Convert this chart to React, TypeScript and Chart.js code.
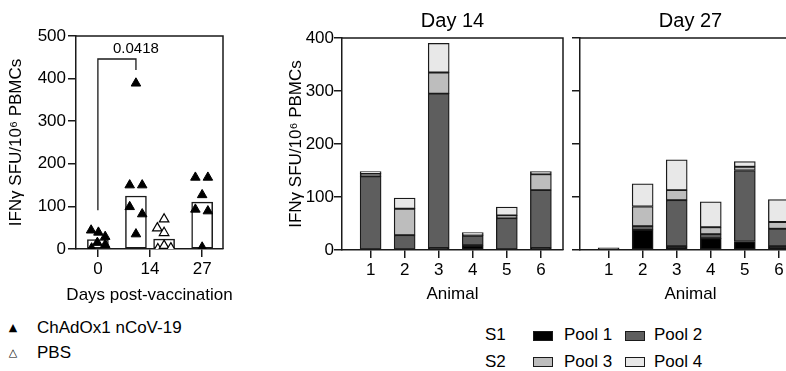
import React, { useEffect, useRef } from "react";
import { Chart, registerables } from "chart.js";

Chart.register(...registerables);

const FONT = "'Liberation Sans', Arial, Helvetica, sans-serif";
const INK = "#1a1a1a";

// ---------- Left panel data ----------
const dayLabels = ["0", "14", "27"];
const chadDay0 = [44, 39, 29, 15, 10, 2];
const chadDay0Jitter = [-0.13, 0.01, 0.14, -0.01, 0.14, -0.12];
const chadDay14 = [150, 150, 99, 82, 35, 389];
const chadDay14Jitter = [-0.12, 0.12, -0.12, 0.12, 0, 0];
const pbsDay14 = [70, 49, 38, 0, 8, 2];
const pbsDay14Jitter = [0, -0.13, 0, -0.12, 0, 0.13];
const chadDay27 = [168, 168, 127, 93, 89, 4];
const chadDay27Jitter = [-0.13, 0.11, 0, -0.13, 0.11, 0];
const pValue = "0.0418";
const bracketValues = { top: 446, leftEnd: 91, rightEnd: 420, label: 470 };
const leftXTitle = "Days post-vaccination";

// ---------- Right panels data ----------
const animals = ["1", "2", "3", "4", "5", "6"];
const poolNames = ["Pool 1", "Pool 2", "Pool 3", "Pool 4"];
const day14Pool1 = [0, 0, 4, 9, 0, 4];
const day14Pool2 = [139, 28, 291, 18, 60, 109];
const day14Pool3 = [5, 50, 40, 3, 5, 30];
const day14Pool4 = [4, 20, 55, 3, 16, 5];
const day27Pool1 = [0, 38, 7, 22, 16, 7];
const day27Pool2 = [4, 7, 87, 8, 134, 33];
const day27Pool3 = [0, 37, 19, 13, 7, 13];
const day27Pool4 = [0, 43, 57, 48, 10, 42];

const poolColors = ["#000000", "#5e5e5e", "#bdbdbd", "#e8e8e8"];
const groupOffset = 0.27;

const median = (arr: number[]) => {
  const s = [...arr].sort((a, b) => a - b);
  const m = Math.floor(s.length / 2);
  return s.length % 2 ? s[m] : (s[m - 1] + s[m]) / 2;
};

const framePlugin = {
  id: "frame",
  afterDraw(chart: any) {
    const { ctx, chartArea } = chart;
    const { left, top, right, bottom } = chartArea;
    ctx.save();
    ctx.strokeStyle = INK;
    ctx.lineWidth = 1.5;
    ctx.beginPath();
    ctx.moveTo(left, top);
    ctx.lineTo(right, top);
    ctx.lineTo(right, bottom);
    ctx.stroke();
    ctx.restore();
  },
};

const bracketPlugin = {
  id: "bracket",
  afterDatasetsDraw(chart: any) {
    const { ctx, chartArea } = chart;
    const x = chart.scales.x;
    const y = chart.scales.y;
    const x1 = x.getPixelForValue(0);
    const x2 = x.getPixelForValue(1 - groupOffset);
    const yTop = y.getPixelForValue(bracketValues.top);
    ctx.save();
    ctx.strokeStyle = INK;
    ctx.lineWidth = 1.3;
    ctx.beginPath();
    ctx.moveTo(x1, y.getPixelForValue(bracketValues.leftEnd));
    ctx.lineTo(x1, yTop);
    ctx.lineTo(x2, yTop);
    ctx.lineTo(x2, y.getPixelForValue(bracketValues.rightEnd));
    ctx.stroke();
    ctx.fillStyle = "#000";
    ctx.font = `15px ${FONT}`;
    ctx.textAlign = "center";
    ctx.textBaseline = "middle";
    ctx.fillText(pValue, x2, y.getPixelForValue(bracketValues.label));
    // x-axis title (drawn without width squeeze)
    ctx.font = `17px ${FONT}`;
    ctx.fillText(leftXTitle, (chartArea.left + chartArea.right) / 2, chart.height - 17);
    ctx.restore();
  },
};

const tickFont = { family: FONT, size: 17 };

function makeY(max: number, width: number, showLabels: boolean, titlePad: number, tickPad: number) {
  return {
    type: "linear",
    min: 0,
    max,
    ticks: {
      stepSize: 100,
      display: showLabels,
      color: "#000",
      font: tickFont,
      padding: tickPad,
    },
    grid: {
      drawOnChartArea: false,
      drawTicks: true,
      tickLength: 8,
      color: INK,
      lineWidth: 1.5,
    },
    border: { display: true, color: INK, width: 1.5 },
    title: {
      display: showLabels,
      text: "IFNγ SFU/10⁶ PBMCs",
      color: "#000",
      font: { family: FONT, size: 17 },
      padding: { top: titlePad, bottom: 0 },
    },
    afterFit: (s: any) => {
      s.width = width;
    },
  };
}

function makeX(labels: string[], min: number, max: number, start: number, title: string, height: number) {
  return {
    type: "linear",
    min,
    max,
    offset: false,
    stacked: true,
    afterBuildTicks: (s: any) => {
      s.ticks = labels.map((_, i) => ({ value: start + i }));
    },
    ticks: {
      autoSkip: false,
      maxRotation: 0,
      color: "#000",
      font: tickFont,
      padding: 2,
      callback: (v: any) => labels[Math.round(v) - start] ?? "",
    },
    grid: {
      offset: false,
      drawOnChartArea: false,
      drawTicks: true,
      tickLength: 8,
      color: INK,
      lineWidth: 1.5,
    },
    border: { display: true, color: INK, width: 1.5 },
    title: {
      display: title !== "",
      text: title,
      color: "#000",
      font: { family: FONT, size: 17 },
      padding: { top: 0, bottom: 7 },
    },
    afterFit: (s: any) => {
      s.height = height;
    },
  };
}

function useChart(ref: React.RefObject<HTMLCanvasElement>, build: () => any) {
  useEffect(() => {
    if (!ref.current) return;
    const chart = new Chart(ref.current, build());
    return () => chart.destroy();
  }, []);
}

function LeftChart() {
  const ref = useRef<HTMLCanvasElement>(null);
  useChart(ref, () => {
    const pts = (vals: number[], jit: number[], pos: number) =>
      vals.map((v, i) => ({ x: pos + jit[i], y: v }));
    const chadGroups = [
      { pos: 0, vals: chadDay0, jit: chadDay0Jitter },
      { pos: 1 - groupOffset, vals: chadDay14, jit: chadDay14Jitter },
      { pos: 2, vals: chadDay27, jit: chadDay27Jitter },
    ];
    const pbsGroups = [{ pos: 1 + groupOffset, vals: pbsDay14, jit: pbsDay14Jitter }];
    const allGroups = [...chadGroups, ...pbsGroups];
    return {
      type: "scatter",
      data: {
        datasets: [
          {
            type: "bar",
            label: "median",
            data: allGroups.map((g) => ({ x: g.pos, y: median(g.vals) })),
            backgroundColor: "#ffffff",
            borderColor: INK,
            borderWidth: 1.5,
            borderSkipped: false,
            barThickness: 21,
            grouped: false,
            order: 3,
          },
          {
            type: "scatter",
            label: "ChAdOx1 nCoV-19",
            data: chadGroups.flatMap((g) => pts(g.vals, g.jit, g.pos)),
            pointStyle: "triangle",
            radius: 5.5,
            backgroundColor: "#000",
            borderColor: "#000",
            borderWidth: 1,
            order: 1,
          },
          {
            type: "scatter",
            label: "PBS",
            data: pbsGroups.flatMap((g) => pts(g.vals, g.jit, g.pos)),
            pointStyle: "triangle",
            radius: 5.5,
            backgroundColor: "#fff",
            borderColor: "#000",
            borderWidth: 1.2,
            order: 1,
          },
        ],
      },
      options: {
        animation: false,
        responsive: false,
        layout: { padding: { top: 36, right: 17, left: 0, bottom: 0 } },
        plugins: { legend: { display: false }, tooltip: { enabled: false } },
        scales: {
          x: { ...makeX(dayLabels, -0.42, 2.4, 0, "", 63), stacked: false },
          y: makeY(500, 76, true, 6, 2),
        },
      },
      plugins: [framePlugin, bracketPlugin],
    };
  });
  return (
    <canvas
      ref={ref}
      width={240}
      height={312}
      style={{ position: "absolute", left: 0, top: 0, width: 240, height: 312 }}
    />
  );
}

function PoolChart(props: {
  title: string;
  pools: number[][];
  left: number;
  width: number;
  axisWidth: number;
  padRight: number;
  showLabels: boolean;
}) {
  const ref = useRef<HTMLCanvasElement>(null);
  useChart(ref, () => ({
    type: "bar",
    data: {
      datasets: props.pools.map((vals, k) => ({
        label: poolNames[k],
        data: vals.map((v, i) => ({ x: i + 1, y: v })),
        backgroundColor: poolColors[k],
        borderColor: INK,
        borderWidth: 1.3,
        borderSkipped: false,
        barThickness: 21,
      })),
    },
    options: {
      animation: false,
      responsive: false,
      layout: { padding: { top: 0, right: props.padRight, left: 0, bottom: 0 } },
      plugins: {
        legend: { display: false },
        tooltip: { enabled: false },
        title: {
          display: true,
          text: props.title,
          fullSize: false,
          color: "#000",
          font: { family: FONT, size: 20, weight: "normal" },
          padding: { top: 9, bottom: 5 },
        },
      },
      scales: {
        x: makeX(animals, 0.16, 6.65, 1, "Animal", 62),
        y: { ...makeY(400, props.axisWidth, props.showLabels, 11, 0), stacked: true },
      },
    },
    plugins: [framePlugin],
  }));
  return (
    <canvas
      ref={ref}
      width={props.width}
      height={312}
      style={{ position: "absolute", left: props.left, top: 0, width: props.width, height: 312 }}
    />
  );
}

const txt = (left: number, cy: number, s: string, size = 17): React.ReactElement => (
  <div
    key={s + left + cy}
    style={{
      position: "absolute",
      left,
      top: cy - 10,
      height: 20,
      lineHeight: "20px",
      fontSize: size,
      fontFamily: FONT,
      color: "#000",
      whiteSpace: "nowrap",
    }}
  >
    {s}
  </div>
);

const swatch = (left: number, cy: number, color: string) => (
  <div
    key={"sw" + left + cy}
    style={{
      position: "absolute",
      left,
      top: cy - 5,
      width: 20,
      height: 10,
      boxSizing: "border-box",
      border: `1.3px solid ${INK}`,
      background: color,
    }}
  />
);

export default function App() {
  return (
    <div
      style={{
        position: "fixed",
        left: 0,
        top: 0,
        width: 786,
        height: 371,
        overflow: "hidden",
        background: "#fff",
      }}
    >
      <LeftChart />
      <PoolChart
        title="Day 14"
        pools={[day14Pool1, day14Pool2, day14Pool3, day14Pool4]}
        left={275}
        width={290}
        axisWidth={67}
        padRight={2}
        showLabels={true}
      />
      <PoolChart
        title="Day 27"
        pools={[day27Pool1, day27Pool2, day27Pool3, day27Pool4]}
        left={565}
        width={240}
        axisWidth={15}
        padRight={4}
        showLabels={false}
      />
      {/* left legend */}
      <div style={{ position: "absolute", left: 7, top: 320, width: 12, textAlign: "center", fontSize: 11, lineHeight: "16px", fontFamily: "DejaVu Sans" }}>▲</div>
      {txt(37, 328, "ChAdOx1 nCoV-19")}
      <div style={{ position: "absolute", left: 7, top: 345, width: 12, textAlign: "center", fontSize: 11, lineHeight: "16px", fontFamily: "DejaVu Sans" }}>△</div>
      {txt(37, 353, "PBS")}
      {/* pool legend */}
      {txt(485, 335, "S1")}
      {txt(485, 362, "S2")}
      {swatch(533, 336, poolColors[0])}
      {txt(564, 335, poolNames[0])}
      {swatch(625, 336, poolColors[1])}
      {txt(654, 335, poolNames[1])}
      {swatch(533, 362, poolColors[2])}
      {txt(564, 362, poolNames[2])}
      {swatch(625, 362, poolColors[3])}
      {txt(654, 362, poolNames[3])}
    </div>
  );
}
